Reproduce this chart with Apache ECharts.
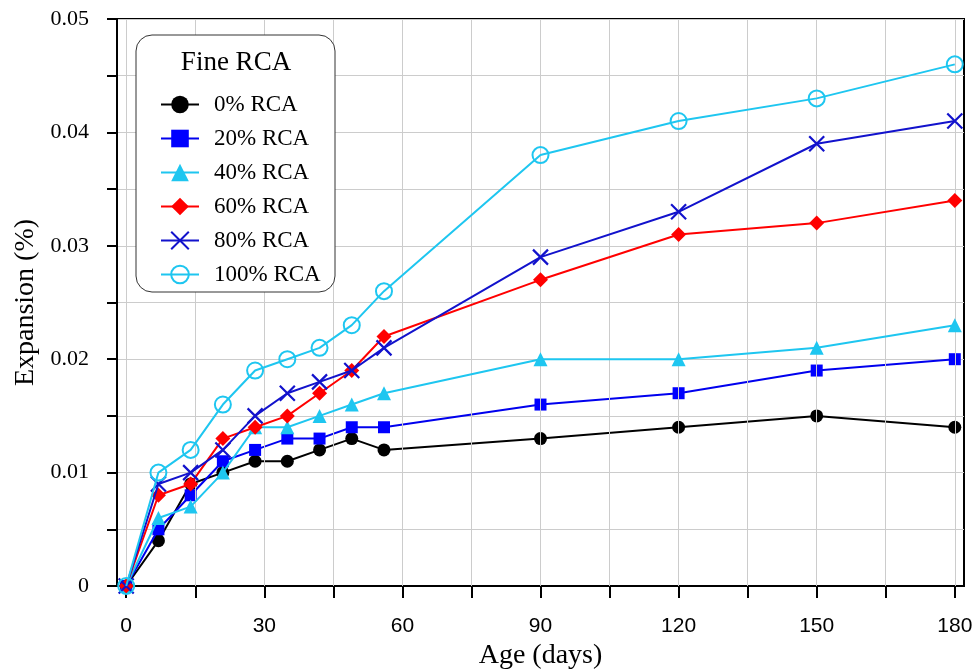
<!DOCTYPE html>
<html>
<head>
<meta charset="utf-8">
<script src="https://cdn.jsdelivr.net/npm/echarts@6/dist/echarts.min.js"></script>
<style>
html,body{margin:0;padding:0;background:#fff;}
#chart{width:973px;height:671px;}
</style>
</head>
<body>
<div id="chart"></div>
<script>
var ages = [0, 7, 14, 21, 28, 35, 42, 49, 56, 90, 120, 150, 180];
var rca0   = [0, 0.004, 0.009, 0.010, 0.011, 0.011, 0.012, 0.013, 0.012, 0.013, 0.014, 0.015, 0.014];
var rca20  = [0, 0.005, 0.008, 0.011, 0.012, 0.013, 0.013, 0.014, 0.014, 0.016, 0.017, 0.019, 0.020];
var rca40  = [0, 0.006, 0.007, 0.010, 0.014, 0.014, 0.015, 0.016, 0.017, 0.020, 0.020, 0.021, 0.023];
var rca60  = [0, 0.008, 0.009, 0.013, 0.014, 0.015, 0.017, 0.019, 0.022, 0.027, 0.031, 0.032, 0.034];
var rca80  = [0, 0.009, 0.010, 0.012, 0.015, 0.017, 0.018, 0.019, 0.021, 0.029, 0.033, 0.039, 0.041];
var rca100 = [0, 0.010, 0.012, 0.016, 0.019, 0.020, 0.021, 0.023, 0.026, 0.038, 0.041, 0.043, 0.046];
var seriesNames = ['0% RCA', '20% RCA', '40% RCA', '60% RCA', '80% RCA', '100% RCA'];
var legendTitle = 'Fine RCA';
var xTickValues = [0, 15, 30, 45, 60, 75, 90, 105, 120, 135, 150, 165, 180];
var xLabelValues = [0, 30, 60, 90, 120, 150, 180];
var yTickLabels = ['0', '0.01', '0.02', '0.03', '0.04', '0.05'];
var xTitle = 'Age (days)';
var yTitle = 'Expansion (%)';

function pairs(vals) { return ages.map(function (a, i) { return [a, vals[i]]; }); }

var SERIF = "'Liberation Serif','Times New Roman',serif";
var SANS = "'Liberation Sans Narrow','Arial Narrow','Liberation Sans',Arial,sans-serif";
var CYAN = '#1ec6f0';
var XPATH = 'path://M0,0L10,10M10,0L0,10';

var styles = [
  {symbol: 'circle', size: 13, color: '#000000', line: '#000000'},
  {symbol: 'rect', size: 12, color: '#0000ff', line: '#0000ee'},
  {symbol: 'triangle', size: 14, color: CYAN, line: CYAN},
  {symbol: 'diamond', size: 15, color: '#ff0000', line: '#ff0000'},
  {symbol: XPATH, size: 15, color: '#1212cc', line: '#1212cc', stroke: true},
  {symbol: 'circle', size: 16, color: CYAN, line: CYAN, hollow: true}
];
var dataSets = [rca0, rca20, rca40, rca60, rca80, rca100];

var series = [{
  name: 'vgrid',
  type: 'line',
  data: [],
  silent: true,
  z: 1,
  markLine: {
    silent: true, symbol: 'none', animation: false,
    label: {show: false},
    emphasis: {disabled: true},
    lineStyle: {color: '#cccccc', width: 1, type: 'solid'},
    data: xTickValues.map(function (v) { return {xAxis: v}; })
  }
}];

dataSets.forEach(function (d, i) {
  var s = styles[i];
  var itemStyle;
  if (s.stroke) itemStyle = {color: s.color, borderColor: s.color, borderWidth: 2.2};
  else if (s.hollow) itemStyle = {color: 'rgba(255,255,255,0)', borderColor: s.color, borderWidth: 2};
  else itemStyle = {color: s.color};
  series.push({
    name: seriesNames[i],
    type: 'line',
    data: pairs(d),
    symbol: s.symbol,
    symbolSize: s.size,
    showAllSymbol: true,
    lineStyle: {color: s.line, width: 2},
    itemStyle: itemStyle,
    emphasis: {disabled: true},
    animation: false,
    z: 3 + i
  });
});

var chart = echarts.init(document.getElementById('chart'), null, {renderer: 'canvas'});
chart.setOption({
  animation: false,
  backgroundColor: '#ffffff',
  grid: {left: 117, right: 9, top: 19, bottom: 85, containLabel: false, outerBoundsMode: 'none',
         show: true, borderColor: '#000', borderWidth: 2, backgroundColor: 'transparent'},
  xAxis: {
    type: 'value', min: -2, max: 182,
    axisLine: {show: true, onZero: false, lineStyle: {color: '#000', width: 2}},
    axisTick: {show: true, inside: false, length: 12, lineStyle: {color: '#000', width: 2}, customValues: xTickValues},
    axisLabel: {customValues: xLabelValues, margin: 30, color: '#000', fontFamily: SANS, fontSize: 21},
    splitLine: {show: false},
    name: xTitle, nameLocation: 'middle', nameGap: 53,
    nameTextStyle: {fontFamily: SERIF, fontSize: 28, color: '#000'}
  },
  yAxis: {
    type: 'value', min: 0, max: 0.05, interval: 0.005,
    axisLine: {show: true, onZero: false, lineStyle: {color: '#000', width: 2}},
    axisTick: {show: true, inside: false, length: 10, lineStyle: {color: '#000', width: 2}},
    axisLabel: {
      margin: 28, color: '#000', fontFamily: SERIF, fontSize: 22,
      formatter: function (v) {
        var k = Math.round(v * 1000);
        return k % 10 === 0 ? yTickLabels[k / 10] : '';
      }
    },
    splitLine: {show: true, lineStyle: {color: '#cccccc', width: 1}},
    name: yTitle, nameLocation: 'middle', nameGap: 73,
    nameTextStyle: {fontFamily: SERIF, fontSize: 28, color: '#000'}
  },
  legend: {
    orient: 'vertical', left: 155, top: 88,
    itemWidth: 38, itemHeight: 22, itemGap: 11,
    data: seriesNames,
    textStyle: {fontFamily: SERIF, fontSize: 23, color: '#000', lineHeight: 22, padding: [0, 0, 0, 10]},
    selectedMode: false,
    z: 10
  },
  graphic: [
    {type: 'rect', z: 8, shape: {x: 136, y: 35, width: 199, height: 257, r: 16},
     style: {fill: '#fff', stroke: '#333', lineWidth: 1}},
    {type: 'text', z: 10, x: 236, y: 63,
     style: {text: legendTitle, fontFamily: SERIF, fontSize: 27, fill: '#000', align: 'center', verticalAlign: 'middle'}}
  ],
  series: series
});
</script>
</body>
</html>
